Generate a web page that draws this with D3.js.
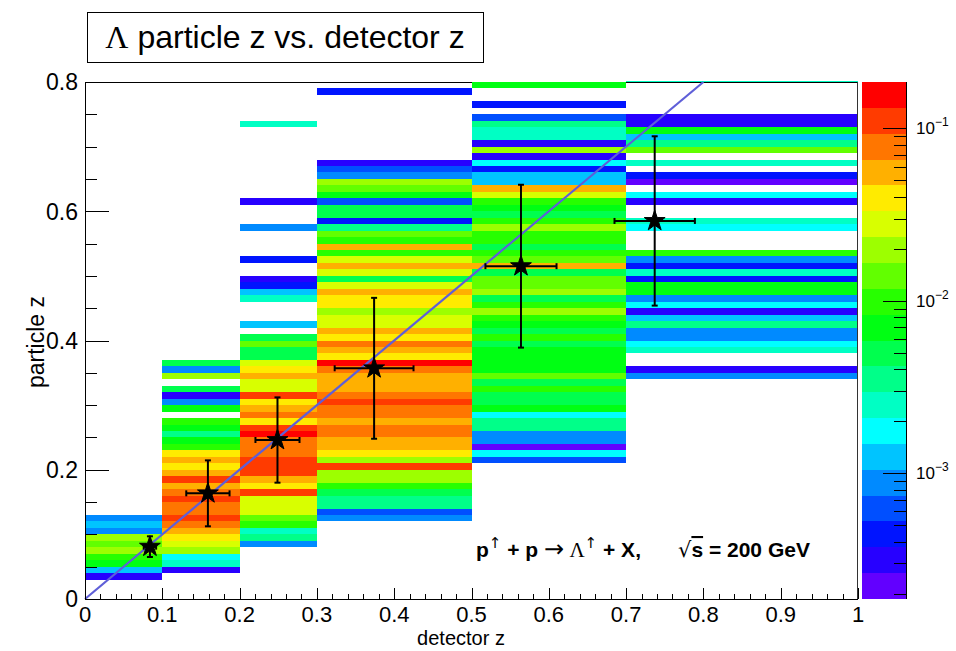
<!DOCTYPE html>
<html>
<head>
<meta charset="utf-8">
<script src="https://cdn.jsdelivr.net/npm/d3@7"></script>
<style>
  html, body { margin: 0; padding: 0; background: #fff; }
  svg { display: block; font-family: "Liberation Sans", Arial, Helvetica, sans-serif; }
</style>
</head>
<body>
<svg id="chart" width="956" height="651"></svg>
<script>
// ---- binning ---------------------------------------------------------------
const xEdges = [0, 0.1, 0.2, 0.3, 0.5, 0.7, 1.0];   // detector z bin edges
const yBinWidth = 0.01;                              // particle z bin width

// ---- bin contents: [particle z lower edge, content] per detector-z bin ------
const col0 = [[0.12,0.00087],[0.11,0.00123],[0.10,0.00087],[0.09,0.0196],[0.08,0.0138],
  [0.07,0.0196],[0.06,0.0098],[0.05,0.0069],[0.04,0.00123],[0.03,0.00031]];

const col1 = [[0.36,0.0049],[0.35,0.00087],[0.34,0.0196],[0.32,0.0049],[0.31,0.00031],
  [0.30,0.00087],[0.29,0.0069],[0.27,0.0098],[0.26,0.0069],[0.25,0.0035],[0.24,0.0069],
  [0.23,0.0098],[0.22,0.039],[0.21,0.0553],[0.20,0.039],[0.19,0.0553],[0.18,0.11],
  [0.17,0.0553],[0.16,0.078],[0.15,0.11],[0.14,0.078],[0.13,0.078],[0.12,0.11],
  [0.11,0.078],[0.10,0.0553],[0.09,0.039],[0.08,0.0277],[0.07,0.0196],[0.06,0.00174],
  [0.05,0.00245],[0.04,0.00031]];

const col2 = [[0.73,0.00245],[0.61,0.00031],[0.57,0.00087],[0.52,0.00044],[0.49,0.00031],
  [0.48,0.00044],[0.47,0.00123],[0.46,0.00245],[0.42,0.00123],[0.40,0.0049],[0.39,0.0138],
  [0.38,0.0049],[0.37,0.0049],[0.36,0.0277],[0.35,0.039],[0.34,0.0553],[0.33,0.0277],
  [0.32,0.0277],[0.31,0.11],[0.30,0.039],[0.29,0.0553],[0.28,0.078],[0.27,0.039],
  [0.26,0.11],[0.25,0.156],[0.24,0.078],[0.23,0.078],[0.22,0.078],[0.21,0.11],[0.20,0.11],
  [0.19,0.11],[0.18,0.0553],[0.17,0.039],[0.16,0.11],[0.15,0.0277],[0.14,0.0277],
  [0.13,0.0277],[0.12,0.0138],[0.11,0.0098],[0.10,0.00245],[0.09,0.0035],[0.08,0.00087]];

const col3 = [[0.78,0.00044],[0.67,0.00031],[0.66,0.00062],[0.65,0.00087],[0.64,0.0196],
  [0.63,0.0138],[0.62,0.0069],[0.61,0.00062],[0.60,0.0049],[0.59,0.0049],[0.58,0.00044],
  [0.57,0.0035],[0.56,0.0138],[0.55,0.0098],[0.54,0.0553],[0.53,0.0098],[0.52,0.0277],
  [0.51,0.0553],[0.50,0.0277],[0.49,0.0049],[0.48,0.0277],[0.47,0.0553],[0.46,0.039],
  [0.45,0.039],[0.44,0.0196],[0.43,0.0277],[0.42,0.0277],[0.41,0.0553],[0.40,0.039],
  [0.39,0.078],[0.38,0.0553],[0.37,0.039],[0.36,0.156],[0.35,0.078],[0.34,0.0553],
  [0.33,0.0553],[0.32,0.0553],[0.31,0.078],[0.30,0.11],[0.29,0.078],[0.28,0.078],
  [0.27,0.0553],[0.26,0.078],[0.25,0.078],[0.24,0.0553],[0.23,0.0553],[0.22,0.039],
  [0.21,0.0196],[0.20,0.11],[0.19,0.0196],[0.18,0.0196],[0.17,0.0098],[0.16,0.0049],
  [0.15,0.0035],[0.14,0.0035],[0.13,0.00062],[0.12,0.00087]];

const col4 = [[0.79,0.0069],[0.76,0.00044],[0.74,0.00062],[0.73,0.0035],[0.72,0.00245],
  [0.71,0.00245],[0.70,0.00031],[0.69,0.0196],[0.68,0.00031],[0.67,0.00174],[0.66,0.00044],
  [0.65,0.00123],[0.64,0.00123],[0.63,0.0553],[0.62,0.0277],[0.61,0.0098],[0.60,0.0069],
  [0.59,0.0049],[0.58,0.0098],[0.57,0.0196],[0.56,0.0098],[0.55,0.0098],[0.54,0.0049],
  [0.53,0.0098],[0.52,0.0138],[0.51,0.0553],[0.50,0.0049],[0.49,0.0138],[0.48,0.0138],
  [0.47,0.0196],[0.46,0.0049],[0.45,0.0098],[0.44,0.0196],[0.43,0.0098],[0.42,0.0069],
  [0.41,0.0049],[0.40,0.0098],[0.39,0.0049],[0.38,0.0069],[0.37,0.0069],[0.36,0.0069],
  [0.35,0.0069],[0.34,0.0138],[0.33,0.0049],[0.32,0.0098],[0.31,0.0049],[0.30,0.0049],
  [0.29,0.0069],[0.28,0.00174],[0.27,0.0035],[0.26,0.0035],[0.25,0.00087],[0.24,0.00087],
  [0.23,0.00022],[0.22,0.00174],[0.21,0.00062]];

const col5 = [[0.80,0.00245],[0.74,0.00031],[0.73,0.00031],[0.72,0.0069],[0.71,0.00123],
  [0.70,0.0035],[0.69,0.0138],[0.67,0.00245],[0.65,0.00044],[0.64,0.00022],[0.62,0.00174],
  [0.61,0.00031],[0.58,0.00245],[0.57,0.00174],[0.53,0.0098],[0.52,0.00087],[0.51,0.00044],
  [0.50,0.00245],[0.49,0.00044],[0.48,0.0069],[0.47,0.0069],[0.46,0.00087],[0.45,0.00174],
  [0.44,0.00031],[0.43,0.00123],[0.42,0.0035],[0.41,0.00087],[0.40,0.00087],[0.39,0.00174],
  [0.38,0.00245],[0.35,0.00031],[0.34,0.00087]];

const columns = [col0, col1, col2, col3, col4, col5];

// ---- profile points (mean particle z per detector-z bin) --------------------
const pointX    = [0.084, 0.159, 0.249, 0.374, 0.564, 0.737];
const pointY    = [0.081, 0.1635, 0.246, 0.357, 0.515, 0.585];
const pointXErr = [0.008, 0.028, 0.0285, 0.051, 0.046, 0.052];
const pointYErr = [0.016, 0.051, 0.066, 0.109, 0.126, 0.131];

// ---- axis ticks --------------------------------------------------------------
const xTicks = [0, 0.1, 0.2, 0.3, 0.4, 0.5, 0.6, 0.7, 0.8, 0.9, 1];
const xTickLabels = ["0", "0.1", "0.2", "0.3", "0.4", "0.5", "0.6", "0.7", "0.8", "0.9", "1"];
const yTicks = [0, 0.2, 0.4, 0.6, 0.8];
const yTickLabels = ["0", "0.2", "0.4", "0.6", "0.8"];
const zTicks = [1e-3, 1e-2, 1e-1];
const zTickExponents = ["\u22123", "\u22122", "\u22121"];
const diagonal = [0, 0.8];   // y = x reference line end points

// ---- colour range ------------------------------------------------------------
const zMin = 1.86e-4, zMax = 0.186, nLevels = 20;

// ---- layout ------------------------------------------------------------------
const frame = { left: 85, top: 82, right: 858, bottom: 599 };
const bar = { left: 862, right: 906 };

const svg = d3.select("#chart");
svg.append("rect").attr("width", 956).attr("height", 651).attr("fill", "#fff");

const x = d3.scaleLinear().domain([0, 1]).range([frame.left, frame.right]);
const y = d3.scaleLinear().domain([0, 0.8]).range([frame.bottom, frame.top]);
const zLevel = d3.scaleLog().domain([zMin, zMax]).range([0, nLevels]);
const palette = d3.range(nLevels).map(i => d3.hsl(263 - i * 263 / (nLevels - 1), 1, 0.5).formatHex());
const colorOf = v => palette[Math.max(0, Math.min(nLevels - 1, Math.floor(zLevel(v))))];

// frame outline (under the cells)
svg.append("rect")
  .attr("x", frame.left + 0.5).attr("y", frame.top + 0.5)
  .attr("width", frame.right - frame.left - 1).attr("height", frame.bottom - frame.top)
  .attr("fill", "none").attr("stroke", "#000").attr("stroke-width", 1);

svg.append("clipPath").attr("id", "frameClip").append("rect")
  .attr("x", frame.left).attr("y", frame.top - 1)
  .attr("width", frame.right - frame.left).attr("height", frame.bottom - frame.top + 1);

// 2D histogram cells
const cells = [];
columns.forEach((col, i) => col.forEach(([yl, v]) => cells.push({ x0: xEdges[i], x1: xEdges[i + 1], yl, v })));

svg.append("g").attr("clip-path", "url(#frameClip)")
  .attr("shape-rendering", "crispEdges")
  .selectAll("rect").data(cells).join("rect")
  .attr("x", d => x(d.x0))
  .attr("width", d => x(d.x1) - x(d.x0))
  .attr("y", d => y(d.yl + yBinWidth))
  .attr("height", d => y(d.yl) - y(d.yl + yBinWidth))
  .attr("fill", d => colorOf(d.v));

// right frame edge drawn again over the cells
svg.append("line")
  .attr("x1", frame.right - 0.5).attr("x2", frame.right - 0.5)
  .attr("y1", frame.top).attr("y2", frame.bottom)
  .attr("stroke", "#333").attr("stroke-width", 1);

// y = x line
svg.append("line")
  .attr("x1", x(diagonal[0])).attr("y1", y(diagonal[0]))
  .attr("x2", x(diagonal[1])).attr("y2", y(diagonal[1]))
  .attr("stroke", "#5f5fd8").attr("stroke-width", 2.2);

// profile points with error bars
const pts = pointX.map((px, i) => ({ px, py: pointY[i], ex: pointXErr[i], ey: pointYErr[i] }));
const pg = svg.append("g").attr("stroke", "#000").attr("stroke-width", 2);
const cap = 3;
pts.forEach(p => {
  const cx = x(p.px), cy = y(p.py);
  const xl = x(p.px - p.ex), xr = x(p.px + p.ex);
  const yt = y(p.py + p.ey), yb = y(p.py - p.ey);
  pg.append("line").attr("x1", xl).attr("x2", xr).attr("y1", cy).attr("y2", cy);
  pg.append("line").attr("x1", cx).attr("x2", cx).attr("y1", yt).attr("y2", yb);
  pg.append("line").attr("x1", cx - cap).attr("x2", cx + cap).attr("y1", yt).attr("y2", yt);
  pg.append("line").attr("x1", cx - cap).attr("x2", cx + cap).attr("y1", yb).attr("y2", yb);
  pg.append("line").attr("x1", xl).attr("x2", xl).attr("y1", cy - cap).attr("y2", cy + cap);
  pg.append("line").attr("x1", xr).attr("x2", xr).attr("y1", cy - cap).attr("y2", cy + cap);
});
svg.append("g").selectAll("path").data(pts).join("path")
  .attr("transform", d => `translate(${x(d.px)},${y(d.py)})`)
  .attr("d", d3.symbol().type(d3.symbolStar).size(135))
  .attr("fill", "#000").attr("stroke", "#000").attr("stroke-width", 1);

// ---- axes --------------------------------------------------------------------
const axes = svg.append("g").attr("stroke", "#000").attr("stroke-width", 1).attr("shape-rendering", "crispEdges");
axes.append("line").attr("x1", frame.left + 0.5).attr("x2", frame.left + 0.5)
  .attr("y1", frame.top).attr("y2", frame.bottom + 0.5);
axes.append("line").attr("x1", frame.left).attr("x2", frame.right)
  .attr("y1", frame.bottom + 0.5).attr("y2", frame.bottom + 0.5);

const yMinor = d3.range(0, 0.8001, 0.05);
axes.selectAll(".yt").data(yMinor).join("line")
  .attr("x1", frame.left).attr("x2", (d, i) => frame.left + (i % 4 === 0 ? 24 : 12))
  .attr("y1", d => Math.round(y(d)) + 0.5).attr("y2", d => Math.round(y(d)) + 0.5);

const xMinor = d3.range(0, 1.0001, 0.02);
axes.selectAll(".xt").data(xMinor).join("line")
  .attr("x1", d => Math.round(x(d)) + 0.5).attr("x2", d => Math.round(x(d)) + 0.5)
  .attr("y1", frame.bottom).attr("y2", (d, i) => frame.bottom - (i % 5 === 0 ? 11 : 5.5));

svg.append("g").selectAll("text").data(yTicks).join("text")
  .attr("x", frame.left - 7).attr("y", d => y(d)).attr("dy", "0.36em")
  .attr("text-anchor", "end").attr("font-size", 23).attr("fill", "#000")
  .text((d, i) => yTickLabels[i]);

svg.append("g").selectAll("text").data(xTicks).join("text")
  .attr("x", d => x(d)).attr("y", 622)
  .attr("text-anchor", "middle").attr("font-size", 22).attr("fill", "#000")
  .text((d, i) => xTickLabels[i]);

svg.append("text").attr("x", 461).attr("y", 645).attr("text-anchor", "middle")
  .attr("font-size", 20).text("detector z");
svg.append("text").attr("transform", "translate(44,342) rotate(-90)").attr("text-anchor", "middle")
  .attr("font-size", 23).text("particle z");

// ---- colour bar ----------------------------------------------------------------
const barY = d3.scaleLinear().domain([0, nLevels]).range([frame.bottom, frame.top]);
svg.append("g").attr("shape-rendering", "crispEdges")
  .selectAll("rect").data(palette).join("rect")
  .attr("x", bar.left).attr("width", bar.right - bar.left)
  .attr("y", (c, i) => barY(i + 1)).attr("height", (c, i) => barY(i) - barY(i + 1))
  .attr("fill", c => c);

const zAxis = d3.scaleLog().domain([zMin, zMax]).range([frame.bottom, frame.top]);
const zMinor = [];
[-4, -3, -2, -1].forEach(e => d3.range(2, 10).forEach(m => {
  const v = m * Math.pow(10, e);
  if (v > zMin && v < zMax) zMinor.push(v);
}));
const zg = svg.append("g").attr("stroke", "#000").attr("stroke-width", 1).attr("shape-rendering", "crispEdges");
zg.append("line").attr("x1", bar.right + 0.5).attr("x2", bar.right + 0.5)
  .attr("y1", frame.top).attr("y2", frame.bottom);
zg.selectAll(".mi").data(zMinor).join("line")
  .attr("x1", bar.right).attr("x2", bar.right - 12)
  .attr("y1", d => Math.round(zAxis(d)) + 0.5).attr("y2", d => Math.round(zAxis(d)) + 0.5);
zg.selectAll(".ma").data(zTicks).join("line")
  .attr("x1", bar.right).attr("x2", bar.right - 23)
  .attr("y1", d => Math.round(zAxis(d)) + 0.5).attr("y2", d => Math.round(zAxis(d)) + 0.5);

const zl = svg.append("g").selectAll("text").data(zTicks).join("text")
  .attr("x", 916).attr("y", d => zAxis(d) + 6).attr("font-size", 17).attr("fill", "#000");
zl.append("tspan").text("10");
zl.append("tspan").attr("dy", -8).attr("font-size", 12).text((d, i) => zTickExponents[i]);

// ---- title box -------------------------------------------------------------------
svg.append("rect").attr("x", 87.5).attr("y", 12.5).attr("width", 396).attr("height", 50)
  .attr("fill", "#fff").attr("stroke", "#000").attr("stroke-width", 1);
const title = svg.append("text").attr("x", 285).attr("y", 48).attr("text-anchor", "middle")
  .attr("font-size", 32).attr("fill", "#000");
title.append("tspan").attr("font-family", "'Liberation Serif', 'Times New Roman', serif").text("\u039B");
title.append("tspan").text(" particle z vs. detector z");

// ---- reaction label ----------------------------------------------------------------
const lab = svg.append("text").attr("x", 476).attr("y", 557).attr("font-size", 21)
  .attr("font-weight", "bold").attr("fill", "#000").style("white-space", "pre");
lab.append("tspan").text("p");
lab.append("tspan").attr("dy", -9).attr("font-size", 15).attr("font-weight", "normal")
  .attr("font-family", "'DejaVu Sans', sans-serif").text("\u2191");
lab.append("tspan").attr("dy", 9).text(" + p ");
lab.append("tspan").attr("font-weight", "normal").attr("font-size", 24)
  .attr("font-family", "'DejaVu Sans', sans-serif").text("\u2192");
lab.append("tspan").attr("font-weight", "normal").attr("font-family", "'Liberation Serif', serif").text(" \u039B");
lab.append("tspan").attr("dy", -9).attr("font-size", 15).attr("font-weight", "normal")
  .attr("font-family", "'DejaVu Sans', sans-serif").text("\u2191");
lab.append("tspan").attr("dy", 9).text(" + X,");

const lab2 = svg.append("text").attr("x", 678).attr("y", 557).attr("font-size", 21)
  .attr("font-weight", "bold").attr("fill", "#000").style("white-space", "pre");
lab2.append("tspan").attr("font-weight", "normal").attr("font-family", "'DejaVu Sans', sans-serif").text("\u221A");
lab2.append("tspan").attr("text-decoration", "overline").text("s");
lab2.append("tspan").text(" = 200 GeV");
</script>
</body>
</html>
